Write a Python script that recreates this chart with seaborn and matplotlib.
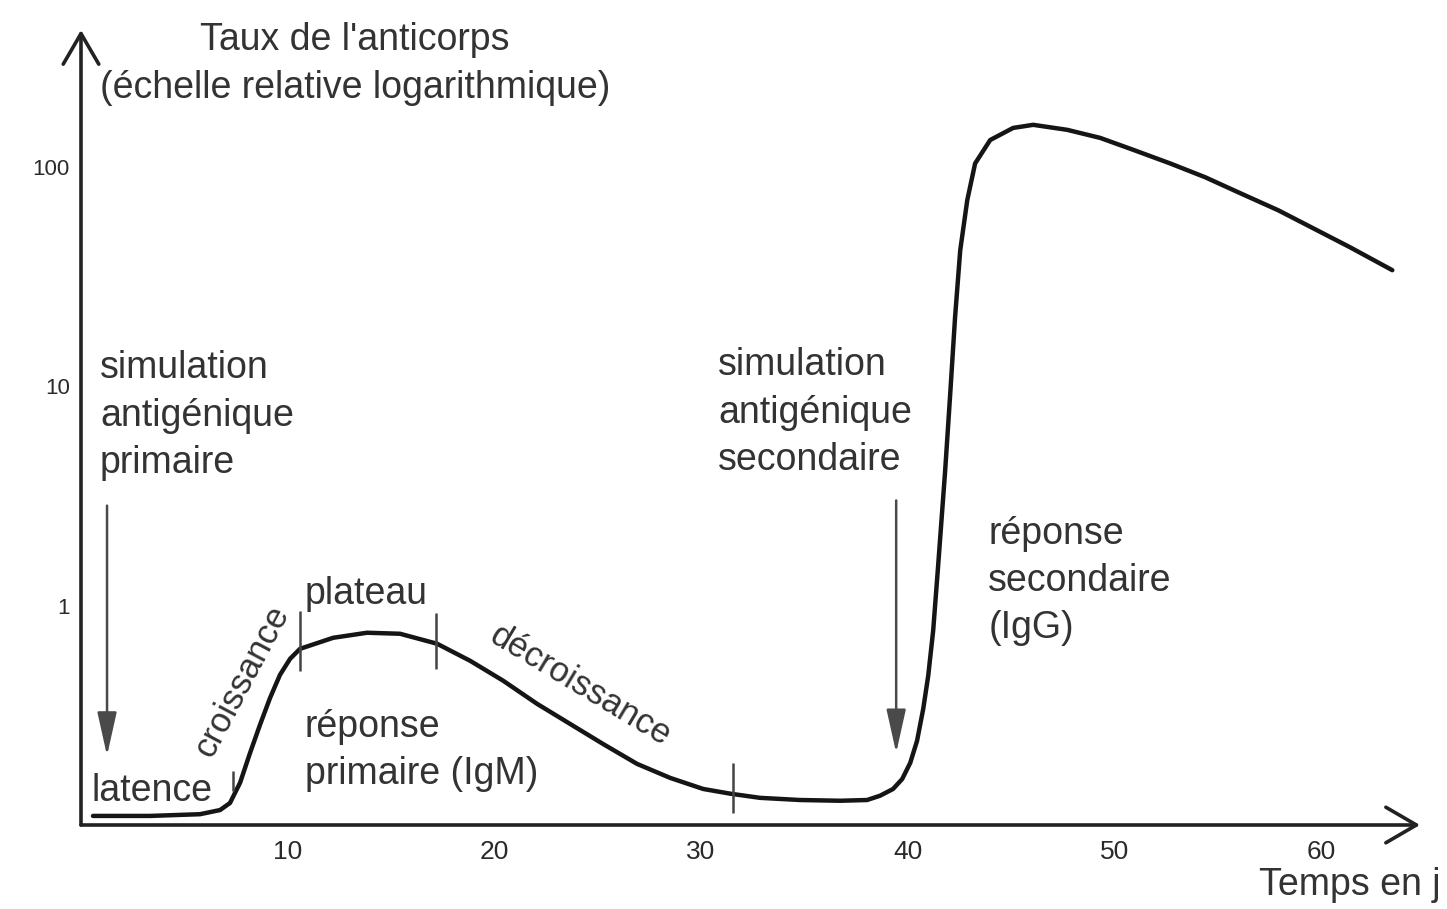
import numpy as np
import pandas as pd
import matplotlib
matplotlib.use("Agg")
import matplotlib.pyplot as plt
import seaborn as sns

# courbe (jours, taux relatif d'anticorps)
jours = [0.58, 3.34, 5.76, 6.73, 7.21, 7.70, 8.18, 8.66, 9.15, 9.63,
         10.12, 10.60, 12.20, 13.84, 15.44, 17.23, 18.83, 20.43, 22.07, 23.67,
         25.27, 26.91, 28.51, 30.11, 31.41, 32.86, 34.80, 36.74, 38.04, 38.67,
         39.30, 39.74, 40.13, 40.46, 40.76, 41.00, 41.24, 41.48, 41.82, 42.06,
         42.30, 42.55, 42.89, 43.27, 44.00, 45.11, 46.08, 47.73, 49.32, 50.92,
         52.71, 54.40, 56.10, 57.94, 61.42, 63.46]
taux = [0.110, 0.110, 0.112, 0.117, 0.126, 0.156, 0.213, 0.286, 0.380, 0.484,
        0.573, 0.636, 0.714, 0.753, 0.745, 0.671, 0.561, 0.455, 0.357, 0.289,
        0.234, 0.190, 0.164, 0.146, 0.139, 0.133, 0.130, 0.129, 0.130, 0.136,
        0.146, 0.162, 0.192, 0.242, 0.339, 0.479, 0.769, 1.52, 4.13, 9.10,
        20.7, 41.8, 70.7, 104, 133, 151, 156, 148, 136, 120,
        104, 90.0, 76.1, 63.6, 43.1, 33.9]

x_ticks = [10, 20, 30, 40, 50, 60]
y_ticks = [1, 10, 100]
y_tick_labels = ["1", "10", "100"]

# limites des phases (petits traits verticaux)
phase_x = [7.36, 10.6, 17.2, 31.56]
phase_bas = [0.143, 0.505, 0.515, 0.1135]
phase_haut = [0.177, 0.95, 0.93, 0.192]

df = pd.DataFrame({"jour": jours, "taux": taux})

sns.set_style("white")
plt.rcParams['font.family'] = ['Liberation Sans', 'DejaVu Sans']
txt_col = "#333333"
narrow = ['Liberation Sans Narrow', 'Liberation Sans', 'DejaVu Sans']

fig = plt.figure(figsize=(14.47, 9.09), dpi=100)
ax = fig.add_axes([81 / 1447, 1 - 825 / 909, (1420 - 81) / 1447, (825 - 30) / 909])

sns.lineplot(data=df, x="jour", y="taux", ax=ax, color="#151515", lw=3.2,
             estimator=None, sort=False)
ax.set_yscale("log")
ax.set_xlim(0, 64.8)
ax.set_ylim(0.1, 10 ** ((605 - 30) / 219))

for s in ax.spines.values():
    s.set_visible(False)

# axes avec flèches ouvertes
arrow_kw = dict(arrowstyle="->, head_length=0.55, head_width=0.32", lw=2.6,
                color="#222222", mutation_scale=40, shrinkA=0, shrinkB=0)
ax.annotate("", xy=(0, 1.0), xytext=(0, 0), xycoords="axes fraction",
            arrowprops=arrow_kw)
ax.annotate("", xy=(1.0, 0), xytext=(0, 0), xycoords="axes fraction",
            arrowprops=arrow_kw)

ax.set_xticks(x_ticks)
ax.set_xticklabels([str(t) for t in x_ticks])
ax.set_yticks(y_ticks)
ax.set_yticklabels(y_tick_labels)
ax.yaxis.set_minor_locator(matplotlib.ticker.NullLocator())
ax.tick_params(axis="both", direction="inout", length=14, width=2,
               color="#333333", labelcolor="#2a2a2a")
ax.tick_params(axis="x", labelsize=19, pad=4)
ax.tick_params(axis="y", labelsize=16, pad=1)
for lab in ax.get_xticklabels() + ax.get_yticklabels():
    lab.set_family(narrow)
ax.set_xlabel("")
ax.set_ylabel("")
ax.grid(False)

fs = 27
ls = 1.4
fig.text(355 / 1447, 1 - 64 / 909,
         "Taux de l'anticorps\n(échelle relative logarithmique)",
         ha="center", va="center", fontsize=fs, color=txt_col, linespacing=ls)
fig.text(1350 / 1447, 1 - 885 / 909, "Temps en j", ha="center", va="center",
         fontsize=fs, color=txt_col)

ax.text(0.92, 7.37, "simulation\nantigénique\nprimaire", ha="left", va="center",
        fontsize=fs, color=txt_col, linespacing=ls)
ax.text(0.53, 0.143, "latence", ha="left", va="center", fontsize=fs, color=txt_col)
ax.text(7.8, 0.455, "croissance", ha="center", va="center", fontsize=25,
        color=txt_col, rotation=62, rotation_mode="anchor")
ax.text(10.84, 1.13, "plateau", ha="left", va="center", fontsize=fs, color=txt_col)
ax.text(10.84, 0.218, "réponse\nprimaire (IgM)", ha="left", va="center",
        fontsize=fs, color=txt_col, linespacing=ls)
ax.text(24.15, 0.431, "décroissance", ha="center", va="center", fontsize=25,
        color=txt_col, rotation=-31, rotation_mode="anchor")
ax.text(30.83, 7.6, "simulation\nantigénique\nsecondaire", ha="left", va="center",
        fontsize=fs, color=txt_col, linespacing=ls)
ax.text(43.9, 1.30, "réponse\nsecondaire\n(IgG)", ha="left", va="center",
        fontsize=fs, color=txt_col, linespacing=ls)

# flèches de stimulation
stim_kw = dict(arrowstyle="-|>, head_length=0.9, head_width=0.2", lw=1.8,
               color="#4a4a4a", mutation_scale=30, shrinkA=0, shrinkB=0)
ax.annotate("", xy=(1.26, 0.207), xytext=(1.26, 2.86), arrowprops=stim_kw)
ax.annotate("", xy=(39.45, 0.213), xytext=(39.45, 3.02), arrowprops=stim_kw)

ax.vlines(phase_x, phase_bas, phase_haut, color="#444444", lw=1.8)

fig.savefig("out.png", dpi=100)
